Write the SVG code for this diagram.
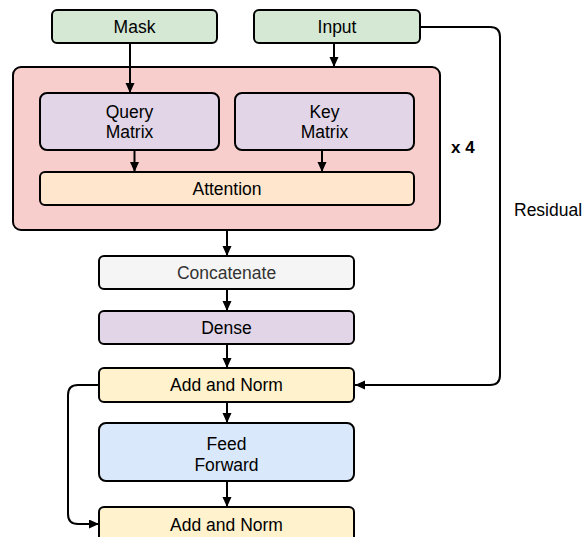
<svg xmlns="http://www.w3.org/2000/svg" width="583" height="537" viewBox="0 0 583 537">
<style>
.box{stroke:#000;stroke-width:2}
.t{font-family:"Liberation Sans",Arial,sans-serif;font-size:17.5px;fill:#000;text-anchor:middle}
.e{fill:none;stroke:#000;stroke-width:2}
</style>
<defs>
<marker id="ah" markerUnits="userSpaceOnUse" markerWidth="11" markerHeight="10" refX="10" refY="4.5" orient="auto">
<path d="M0,0 L10,4.5 L0,9 z" fill="#000"/>
</marker>
</defs>
<rect width="583" height="537" fill="#fff"/>
<g id="container">
<rect class="box" x="13" y="67" width="427" height="163" rx="8" fill="#f8cecc"/>
</g>
<g id="mask"><rect class="box" x="52" y="10" width="165" height="33" rx="5" fill="#d5e8d4"/><text class="t" x="134.5" y="33">Mask</text></g>
<g id="input"><rect class="box" x="254" y="10" width="166" height="33" rx="5" fill="#d5e8d4"/><text class="t" x="337" y="33">Input</text></g>
<g id="query"><rect class="box" x="40" y="93" width="179" height="57" rx="7" fill="#e1d5e7"/><text class="t" x="129.5" y="118">Query</text><text class="t" x="129.5" y="138">Matrix</text></g>
<g id="key"><rect class="box" x="235" y="93" width="179" height="57" rx="7" fill="#e1d5e7"/><text class="t" x="324.5" y="118">Key</text><text class="t" x="324.5" y="138">Matrix</text></g>
<g id="attention"><rect class="box" x="40" y="172" width="374" height="33" rx="5" fill="#ffe6cc"/><text class="t" x="227" y="195">Attention</text></g>
<g id="x4"><text x="451" y="153" style="font-family:'Liberation Sans',Arial,sans-serif;font-size:17px;font-weight:bold;fill:#000">x 4</text></g>
<g id="residual-label"><text x="514" y="216" style="font-family:'Liberation Sans',Arial,sans-serif;font-size:17.5px;fill:#000">Residual</text></g>
<g id="concatenate"><rect class="box" x="99" y="256" width="255" height="33" rx="5" fill="#f5f5f5"/><text class="t" x="226.5" y="279" style="fill:#333">Concatenate</text></g>
<g id="dense"><rect class="box" x="99" y="311" width="255" height="33" rx="5" fill="#e1d5e7"/><text class="t" x="226.5" y="334">Dense</text></g>
<g id="addnorm1"><rect class="box" x="99" y="368" width="255" height="34" rx="5" fill="#fff2cc"/><text class="t" x="226.5" y="391">Add and Norm</text></g>
<g id="feedforward"><rect class="box" x="99" y="423" width="255" height="58" rx="7" fill="#dae8fc"/><text class="t" x="226.5" y="450">Feed</text><text class="t" x="226.5" y="471">Forward</text></g>
<g id="addnorm2"><rect class="box" x="99" y="507" width="255" height="35" rx="5" fill="#fff2cc"/><text class="t" x="226.5" y="531">Add and Norm</text></g>
<g id="connectors">
<path class="e" d="M130,43 V93" marker-end="url(#ah)"/>
<path class="e" d="M334,43 V67" marker-end="url(#ah)"/>
<path class="e" d="M134.5,150 V172" marker-end="url(#ah)"/>
<path class="e" d="M322,150 V172" marker-end="url(#ah)"/>
<path class="e" d="M227,230 V256" marker-end="url(#ah)"/>
<path class="e" d="M227,289 V311" marker-end="url(#ah)"/>
<path class="e" d="M227,344 V368" marker-end="url(#ah)"/>
<path class="e" d="M227,402 V423" marker-end="url(#ah)"/>
<path class="e" d="M227,481 V507" marker-end="url(#ah)"/>
<path class="e" d="M420,27 H490 Q500,27 500,37 V375 Q500,385 490,385 H355" marker-end="url(#ah)"/>
<path class="e" d="M99,385 H78 Q68,385 68,395 V514 Q68,524 78,524 H99" marker-end="url(#ah)"/>
</g>
</svg>
